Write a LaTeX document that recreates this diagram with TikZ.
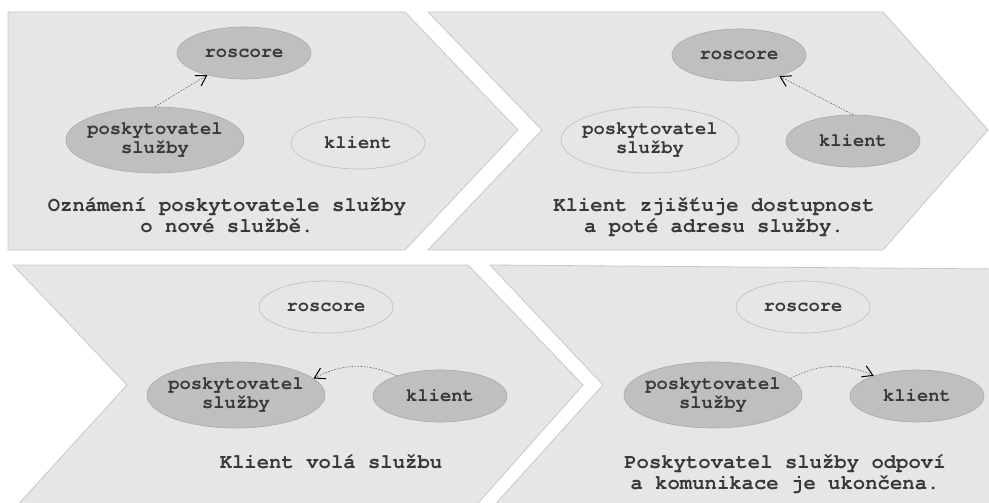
\documentclass[tikz,border=0pt]{standalone}
\usepackage{fontspec}
\setmonofont{TeX Gyre Cursor}
\usetikzlibrary{arrows.meta,shapes.geometric}
\definecolor{panelfill}{HTML}{E6E6E6}
\definecolor{panelline}{HTML}{C8C8C8}
\definecolor{darkfill}{HTML}{BFBFBF}
\definecolor{darkline}{HTML}{A9A9A9}
\definecolor{lightline}{HTML}{BEBEBE}
\definecolor{txt}{HTML}{383838}
\definecolor{arrowline}{HTML}{6A6A6A}
\begin{document}
\begin{tikzpicture}[x=1pt,y=-1pt,
  panel/.style={fill=panelfill,draw=panelline,line width=0.8pt},
  ell/.style={ellipse,inner xsep=-8pt,inner ysep=0pt,align=center,text=txt,
    font=\ttfamily\bfseries\fontsize{18.8}{18.5}\selectfont},
  darknode/.style={ell,fill=darkfill,draw=darkline,line width=0.6pt},
  lightnode/.style={ell,fill=panelfill,draw=lightline,line width=0.6pt},
  small/.style={minimum width=134pt,minimum height=52pt},
  big/.style={minimum width=178pt,minimum height=66pt},
  caption/.style={align=center,text=txt,anchor=base,inner sep=0pt,
    font=\ttfamily\bfseries\fontsize{20.6}{21}\selectfont},
  msg/.style={draw=arrowline,line width=0.6pt,dash pattern=on 1.6pt off 1.4pt,
    -{Straight Barb[length=10pt,width=12pt,color=black,line width=1pt]}}
]
\useasboundingbox (0,0) rectangle (989,503);
\clip (0,0) rectangle (989,503);
\fill[white] (0,0) rectangle (989,503);

% panels
\draw[panel] (8,12) -- (405,12) -- (518,130) -- (405,250) -- (8,250) -- cycle;
\draw[panel] (428,12) -- (883,12) -- (988,130) -- (883,250) -- (428,250) -- (542,130) -- cycle;
\draw[panel] (13,265) -- (468,265) -- (583,385) -- (472,510) -- (13,510) -- (127,385) -- cycle;
\draw[panel] (490,265) -- (1000,269) -- (1000,510) -- (490,510) -- (603,385) -- cycle;

% panel 1
\node[darknode,small] (p1r) at (244,53) {roscore};
\node[darknode,big] (p1p) at (155,140) {poskytovatel\\služby};
\node[lightnode,small] (p1k) at (358,143) {klient};
\draw[msg] (p1p.north) -- (p1r);
\node[caption] (c1) at (227,232) {Oznámení poskytovatele služby\\o nové službě.};

% panel 2
\node[darknode,small] (p2r) at (739,55) {roscore};
\node[lightnode,big] (p2p) at (650,140) {poskytovatel\\služby};
\node[darknode,small] (p2k) at (853,141) {klient};
\draw[msg] (p2k.north) -- (p2r);
\node[caption] (c2) at (714,232) {Klient zjišťuje dostupnost\\a poté adresu služby.};

% panel 3
\node[lightnode,small] (p3r) at (326,307) {roscore};
\node[darknode,big] (p3p) at (236,395) {poskytovatel\\služby};
\node[darknode,small] (p3k) at (440,396) {klient};
\draw[msg] (p3k.155) to[bend right=26] (p3p.12);
\node[caption] (c3) at (331,468) {Klient volá službu};

% panel 4
\node[lightnode,small] (p4r) at (803,307) {roscore};
\node[darknode,big] (p4p) at (713,395) {poskytovatel\\služby};
\node[darknode,small] (p4k) at (917,396) {klient};
\draw[msg] (p4p.12) to[bend left=26] (p4k.155);
\node[caption] (c4) at (785,489) {Poskytovatel služby odpoví\\a komunikace je ukončena.};
\end{tikzpicture}
\end{document}
